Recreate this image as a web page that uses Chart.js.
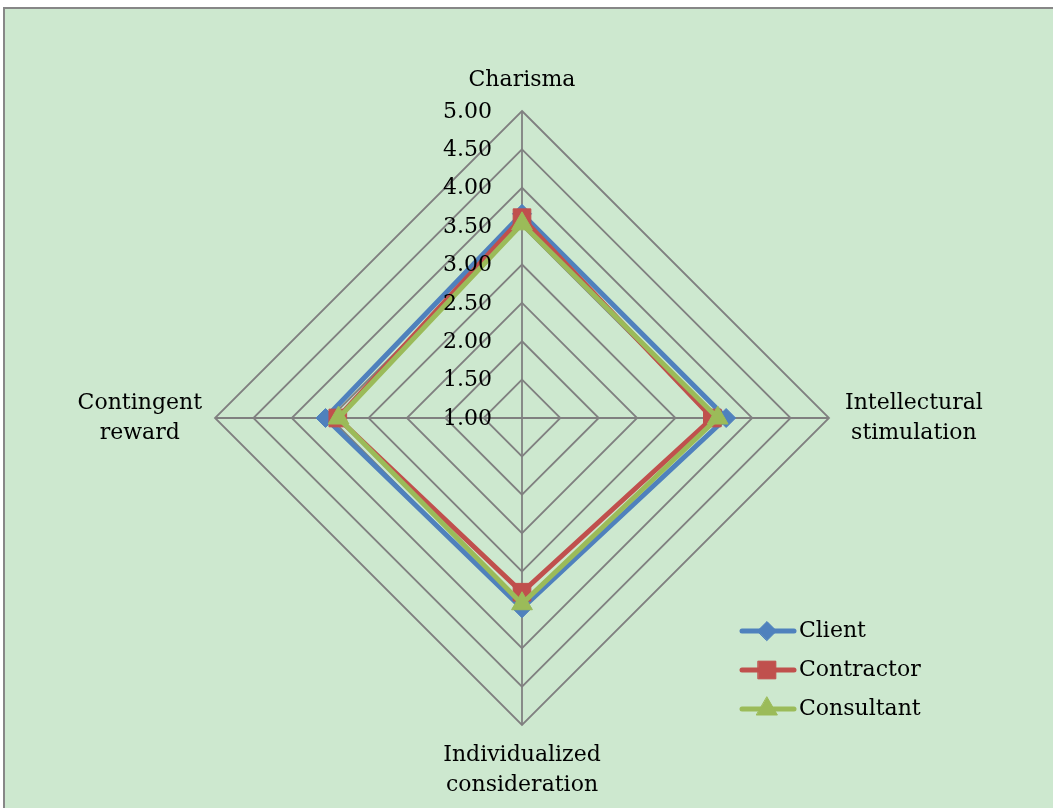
<!DOCTYPE html>
<html><head><meta charset="utf-8">
<script src="https://cdn.jsdelivr.net/npm/chart.js@4.4.1/dist/chart.umd.min.js"></script>
<style>
html,body{margin:0;padding:0;background:#ffffff;overflow:hidden;width:1053px;height:808px;}
#frame{position:absolute;left:3px;top:7px;width:1100px;height:900px;border:2px solid #878787;background:#cde8cf;}
#wrap{position:absolute;left:0;top:0;width:1053px;height:808px;}
</style></head><body>
<div id="frame"></div>
<div id="wrap"><canvas id="c" width="1053" height="808"></canvas></div>
<script>
// ---- data ----
const categories = [['Charisma'], ['Intellectural', 'stimulation'], ['Individualized', 'consideration'], ['Contingent', 'reward']];
const seriesNames = ['Client', 'Contractor', 'Consultant'];
const clientValues = [3.66, 3.66, 3.48, 3.56];
const contractorValues = [3.61, 3.48, 3.27, 3.40];
const consultantValues = [3.53, 3.55, 3.42, 3.39];
const tickLabels = ['1.00', '1.50', '2.00', '2.50', '3.00', '3.50', '4.00', '4.50', '5.00'];

const FONT = '"DejaVu Serif", "Liberation Serif", serif';
const colors = ['#4f81bd', '#c0504d', '#9bbb59'];
const styles = ['rectRot', 'rect', 'triangle'];
const radii = [9.5, 12.5, 12];
const seriesValues = [clientValues, contractorValues, consultantValues];

const datasets = seriesNames.map((name, i) => ({
  label: name,
  data: seriesValues[i],
  borderColor: colors[i],
  backgroundColor: colors[i],
  borderWidth: 5,
  fill: false,
  tension: 0,
  pointStyle: styles[i],
  pointRadius: radii[i],
  pointHoverRadius: radii[i],
  pointBackgroundColor: colors[i],
  pointBorderColor: colors[i],
  pointBorderWidth: 1,
  order: 3 - i
}));

function drawMarker(ctx, style, r, x, y) {
  if (Chart.helpers && Chart.helpers.drawPoint) {
    Chart.helpers.drawPoint(ctx, {pointStyle: style, radius: r, rotation: 0, borderWidth: 1}, x, y);
    return;
  }
  ctx.beginPath();
  if (style === 'rect') { const s = r * Math.SQRT1_2; ctx.rect(x - s, y - s, 2 * s, 2 * s); }
  else if (style === 'rectRot') { ctx.moveTo(x - r, y); ctx.lineTo(x, y - r); ctx.lineTo(x + r, y); ctx.lineTo(x, y + r); ctx.closePath(); }
  else { ctx.moveTo(x, y - r); ctx.lineTo(x + r * 0.866, y + r / 2); ctx.lineTo(x - r * 0.866, y + r / 2); ctx.closePath(); }
  ctx.fill(); ctx.stroke();
}

const tickTextPlugin = {
  id: 'tickText',
  afterDatasetsDraw(chart) {
    const s = chart.scales.r, ctx = chart.ctx;
    ctx.save();
    ctx.font = '22px ' + FONT;
    ctx.fillStyle = '#000000';
    ctx.textAlign = 'right';
    ctx.textBaseline = 'middle';
    tickLabels.forEach(t => {
      const y = s.yCenter - s.getDistanceFromCenterForValue(parseFloat(t));
      ctx.fillText(t, s.xCenter - 30, y + 1);
    });
    ctx.restore();
  }
};

const lineLegendPlugin = {
  id: 'lineLegend',
  afterDraw(chart) {
    const ctx = chart.ctx;
    ctx.save();
    chart.data.datasets.forEach((ds, i) => {
      const y = 631 + i * 39;
      ctx.strokeStyle = ds.borderColor;
      ctx.lineWidth = ds.borderWidth;
      ctx.lineCap = 'round';
      ctx.beginPath(); ctx.moveTo(742, y); ctx.lineTo(794, y); ctx.stroke();
      ctx.lineWidth = 1;
      ctx.fillStyle = ds.pointBackgroundColor;
      ctx.strokeStyle = ds.pointBorderColor;
      drawMarker(ctx, ds.pointStyle, ds.pointRadius, 767, y);
      ctx.fillStyle = '#000000';
      ctx.font = '22px ' + FONT;
      ctx.textAlign = 'left';
      ctx.textBaseline = 'middle';
      ctx.fillText(ds.label, 799, y);
    });
    ctx.restore();
  }
};

new Chart(document.getElementById('c'), {
  type: 'radar',
  data: { labels: categories, datasets: datasets },
  options: {
    responsive: false,
    animation: false,
    devicePixelRatio: 1,
    layout: { padding: 0 },
    plugins: { legend: { display: false }, tooltip: { enabled: false } },
    elements: { line: { tension: 0 } },
    scales: {
      r: {
        min: 1, max: 5,
        ticks: { display: false, stepSize: 0.5 },
        grid: { color: '#808080', lineWidth: 1.8 },
        angleLines: { color: '#808080', lineWidth: 1.8 },
        pointLabels: {
          color: '#000000',
          font: { family: FONT, size: 22, lineHeight: 30 / 22 },
          padding: ctx => [16, 16, 15, 13][ctx.index]
        },
        afterSetDimensions: s => { s.xCenter = 522; s.yCenter = 418; s.drawingArea = 307; },
        afterFit: s => {
          (s._pointLabelItems || []).forEach(it => { it.x = (it.left + it.right) / 2; it.textAlign = 'center'; });
        }
      }
    }
  },
  plugins: [tickTextPlugin, lineLegendPlugin]
});
</script>
</body></html>
